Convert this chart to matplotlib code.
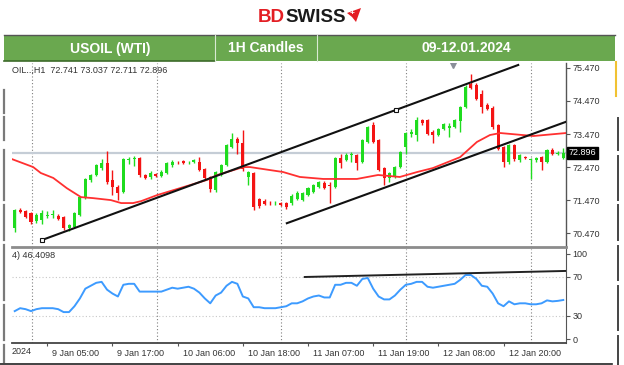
import matplotlib
matplotlib.use("Agg")
import matplotlib.pyplot as plt
import matplotlib.transforms as mtrans
from matplotlib.patches import Rectangle, Polygon
import numpy as np

plt.rcParams['font.family'] = ['Liberation Sans', 'DejaVu Sans']

W, H = 624, 365

# hourly candles, 9-12 Jan 2024
opens = [70.62, 71.17, 71.14, 71.08, 70.83, 70.86, 71.00, 71.02, 70.99, 70.95,
         70.62, 70.65, 71.02, 71.56, 72.08, 72.23, 72.44, 72.59, 72.08, 71.86,
         71.71, 72.68, 72.71, 72.74, 72.23, 72.17, 72.26, 72.20, 72.29, 72.53,
         72.63, 72.65, 72.61, 72.62, 72.62, 72.41, 72.17, 71.77, 72.23, 72.53,
         73.08, 73.32, 73.20, 72.17, 72.29, 71.50, 71.44, 71.39, 71.37, 71.38,
         71.38, 71.38, 71.50, 71.47, 71.62, 71.71, 71.86, 72.00, 71.93, 71.86,
         72.74, 72.68, 72.84, 72.83, 72.62, 73.23, 73.74, 73.29, 72.44, 72.14,
         72.17, 72.47, 73.08, 73.47, 73.44, 73.89, 73.89, 73.53, 73.44, 73.62,
         73.66, 73.68, 73.86, 74.29, 74.98, 74.95, 74.68, 74.35, 74.26, 73.74,
         73.08, 72.62, 73.14, 72.68, 72.77, 72.68, 72.68, 72.77, 72.62, 72.98,
         72.88, 72.741]
highs = [71.20, 71.22, 71.17, 71.11, 71.08, 71.17, 71.14, 71.17, 71.05, 70.98,
         70.74, 71.11, 71.59, 72.14, 72.26, 72.56, 72.71, 72.95, 72.38, 71.92,
         72.74, 72.77, 72.80, 72.77, 72.26, 72.35, 72.29, 72.38, 72.62, 72.68,
         72.66, 72.68, 72.66, 72.71, 72.77, 72.44, 72.20, 72.35, 72.56, 73.17,
         73.50, 73.38, 73.59, 72.35, 72.32, 71.53, 71.50, 71.44, 71.44, 71.41,
         71.41, 71.65, 71.74, 71.71, 71.86, 71.95, 72.05, 72.05, 72.02, 72.77,
         72.86, 72.89, 72.92, 72.86, 73.32, 73.71, 73.83, 73.32, 72.47, 72.32,
         72.50, 72.95, 73.53, 73.62, 73.98, 73.92, 73.92, 73.59, 73.65, 73.80,
         73.80, 73.92, 74.32, 74.95, 75.29, 75.01, 74.80, 74.41, 74.32, 73.77,
         73.11, 73.17, 73.17, 72.86, 72.80, 72.74, 72.77, 72.80, 73.01, 73.04,
         72.95, 73.037]
lows = [70.50, 71.08, 70.92, 70.74, 70.77, 70.74, 70.92, 70.92, 70.86, 70.56,
        70.53, 70.62, 70.98, 71.50, 72.02, 72.20, 72.38, 71.95, 71.62, 71.47,
        71.68, 72.56, 72.50, 72.17, 72.11, 72.11, 72.17, 72.17, 72.26, 72.47,
        72.56, 72.56, 72.56, 72.59, 72.35, 72.08, 71.71, 71.71, 72.20, 72.50,
        73.05, 72.86, 72.35, 71.92, 71.17, 71.23, 71.32, 71.32, 71.32, 71.29,
        71.20, 71.32, 71.47, 71.44, 71.59, 71.68, 71.83, 71.80, 71.38, 71.83,
        72.44, 72.65, 72.62, 72.38, 72.59, 73.20, 73.20, 72.35, 71.92, 72.02,
        72.14, 72.44, 72.86, 73.38, 73.26, 73.74, 73.44, 73.20, 73.41, 73.59,
        73.38, 73.65, 73.53, 74.26, 74.83, 74.50, 74.11, 74.20, 73.62, 72.98,
        72.47, 72.56, 72.65, 72.62, 72.71, 72.10, 72.62, 72.38, 72.59, 72.83,
        72.83, 72.711]
closes = [71.17, 71.11, 70.95, 70.80, 71.02, 71.08, 71.03, 71.04, 70.90, 70.62,
          70.71, 71.08, 71.56, 72.11, 72.23, 72.53, 72.59, 72.02, 71.86, 71.68,
          72.71, 72.71, 72.74, 72.23, 72.14, 72.29, 72.21, 72.32, 72.59, 72.62,
          72.61, 72.59, 72.63, 72.68, 72.38, 72.14, 71.80, 72.32, 72.53, 73.14,
          73.32, 73.20, 72.41, 72.32, 71.26, 71.29, 71.35, 71.37, 71.39, 71.32,
          71.26, 71.59, 71.68, 71.68, 71.83, 71.92, 72.02, 71.83, 71.90, 72.74,
          72.59, 72.83, 72.86, 72.59, 73.29, 73.68, 73.23, 72.38, 72.14, 72.29,
          72.47, 72.92, 73.50, 73.53, 73.89, 73.80, 73.47, 73.44, 73.62, 73.77,
          73.70, 73.89, 74.29, 74.89, 74.86, 74.53, 74.29, 74.23, 73.68, 73.02,
          72.62, 73.14, 72.71, 72.83, 72.74, 72.71, 72.74, 72.62, 72.98, 72.86,
          72.91, 72.896]

# moving average
ma_idx = [-0.5, 3.4, 4.8, 7.1, 9.6, 12.2, 14.4, 17.7, 19.6, 21.8, 23.3, 26.2, 31.0,
          35.4, 37.3, 42.1, 43.3, 49.4, 52.5, 56.8, 63.0, 66.9, 70.9, 74.1, 77.0,
          82.0, 85.1, 87.5, 89.4, 95.5, 101.5]
ma_val = [72.71, 72.47, 72.29, 72.14, 71.83, 71.56, 71.53, 71.47, 71.38, 71.38, 71.44,
          71.62, 71.86, 72.08, 72.23, 72.47, 72.47, 72.32, 72.17, 72.11, 72.11, 72.23,
          72.17, 72.32, 72.44, 72.77, 73.23, 73.44, 73.50, 73.41, 73.50]

rsi = [35, 38, 37, 35, 37, 38, 38, 38, 37, 34,
       34, 40, 48, 58, 61, 64, 65, 57, 53, 50,
       62, 63, 63, 55, 55, 55, 55, 55, 57, 59,
       58, 59, 60, 58, 54, 48, 43, 51, 54, 61,
       65, 63, 50, 48, 39, 39, 38, 38, 38, 39,
       40, 43, 43, 45, 48, 50, 51, 49, 49, 62,
       62, 64, 64, 61, 68, 69, 58, 50, 47, 47,
       51, 57, 62, 63, 65, 65, 60, 59, 60, 61,
       62, 63, 67, 72, 72, 68, 61, 60, 53, 43,
       40, 45, 42, 43, 43, 42, 42, 43, 46, 45,
       45.5, 46.4098]

# trend lines (bar index, value)
upper_x, upper_y = [5.0, 92.7], [70.26, 75.56]
upper_pts_x, upper_pts_y = [5.0, 70.2], [70.26, 74.20]
lower_x, lower_y = [50.1, 101.5], [70.77, 73.84]
rsi_tl_x, rsi_tl_y = [53.4, 101.5], [70.0, 76.2]

xtick_idx = [6, 18, 30, 42, 54, 66, 78, 90]
xtick_lab = ['9 Jan 05:00', '9 Jan 17:00', '10 Jan 06:00', '10 Jan 18:00',
             '11 Jan 07:00', '11 Jan 19:00', '12 Jan 08:00', '12 Jan 20:00']
grid_idx = [3.2, 26.2, 49.0, 72.1, 95.0]
price_ticks = [75.47, 74.47, 73.47, 72.47, 71.47, 70.47]

GREEN = '#1fdc1f'
RED = '#f41414'
TXT = '#333333'


def px_axes(fig, x0, y0, x1, y1, **kw):
    return fig.add_axes([x0 / W, 1 - y1 / H, (x1 - x0) / W, (y1 - y0) / H], **kw)


fig = plt.figure(figsize=(W / 100, H / 100), dpi=100)

# background / decorations in pixel coordinates
bg = px_axes(fig, 0, 0, W, H)
bg.set_xlim(0, W)
bg.set_ylim(H, 0)
bg.axis('off')

bg.add_patch(Rectangle((4, 35), 611, 26, facecolor='#6aa84f', edgecolor='none'))
bg.plot([4, 615], [35, 35], color='#555555', lw=1)
bg.plot([4, 215], [61, 61], color='#3d6b2a', lw=1.2)
for xx in [215, 317]:
    bg.plot([xx, xx], [35, 61], color='#d9ead3', lw=0.8)
bg.text(110, 48.5, 'USOIL (WTI)', color='white', fontsize=10, fontweight='bold',
        ha='center', va='center')
bg.text(266, 48.5, '1H Candles', color='white', fontsize=10, fontweight='bold',
        ha='center', va='center')
bg.text(466, 48.5, '09-12.01.2024', color='white', fontsize=10, fontweight='bold',
        ha='center', va='center')

# logo
t_bd = bg.text(258, 17, 'BD', color='#e31e24', fontsize=13.5, fontweight='bold',
               ha='left', va='center')
bg.annotate('SWISS', xy=(1, 0.5), xycoords=t_bd, color='#1a1a1a', fontsize=13.5,
            fontweight='bold', ha='left', va='center')
bg.add_patch(Polygon([(347, 13), (361, 8), (356, 22), (352, 17)], closed=True,
                     facecolor='#e31e24', edgecolor='none'))
bg.text(352.5, 14, '+', color='white', fontsize=6, fontweight='bold',
        ha='center', va='center')

# window edges
for y0, y1 in [(90, 113), (117, 140), (150, 200), (205, 240), (245, 300), (305, 340), (345, 362)]:
    bg.plot([4, 4], [y0, y1], color='#7a7a7a', lw=1.6)
bg.plot([616, 616], [62, 96], color='#f1c232', lw=1.5)
for y0, y1 in [(118, 150), (156, 200), (205, 240), (246, 280), (286, 330), (336, 365)]:
    bg.plot([618, 618], [y0, y1], color='#444444', lw=1.4)
bg.plot([0, 612], [363.5, 363.5], color='#222222', lw=1.2)

fig.text(12 / W, 1 - 70 / H, 'OIL..,H1  72.741 73.037 72.711 72.896',
         fontsize=6.5, color=TXT, ha='left', va='center')
fig.text(12 / W, 1 - 255 / H, '4) 46.4098', fontsize=6.5, color=TXT,
         ha='left', va='center')
fig.text(12 / W, 1 - 352 / H, '2024', fontsize=6.5, color=TXT,
         ha='left', va='center')

# ---------------- price panel
ax = px_axes(fig, 12, 63, 566, 247)
ax.set_facecolor('none')
idx = np.arange(len(opens))
o = np.array(opens)
c = np.array(closes)
cols = np.where(c >= o, GREEN, RED)

for g in grid_idx:
    ax.axvline(g, color='#7f7f7f', ls=(0, (1, 2)), lw=0.8, zorder=0)
ax.axhline(closes[-1], color='#c5cdd6', lw=1.6, zorder=1)

ax.vlines(idx, lows, highs, colors=cols, lw=1, zorder=2)
body = np.maximum(np.abs(c - o), 0.02)
ax.bar(idx, body, bottom=np.minimum(o, c), width=0.56, color=cols, lw=0, zorder=3)

ax.plot(ma_idx, ma_val, color='#ff3030', lw=1.3, zorder=4)
ax.plot(upper_x, upper_y, color='#111111', lw=1.5, zorder=5)
ax.plot(lower_x, lower_y, color='#111111', lw=1.5, zorder=5)
ax.plot(upper_pts_x, upper_pts_y, ls='none', marker='s', ms=3, mfc='white',
        mec='#111111', mew=0.8, zorder=6)
ax.plot([80.7], [75.55], ls='none', marker='v', ms=4, color='#8a8f99', zorder=6)

ax.set_xlim(-0.5, 101.5)
ax.set_ylim(70.05, 75.62)
ax.set_xticks([])
ax.yaxis.tick_right()
ax.set_yticks(price_ticks)
ax.set_yticklabels(['%.3f' % p for p in price_ticks])
ax.tick_params(axis='y', direction='out', length=3, width=0.8, color='#555555',
               labelsize=6.5, labelcolor=TXT, pad=1.5)
for s in ['top', 'left']:
    ax.spines[s].set_visible(False)
ax.spines['right'].set_color('#555555')
ax.spines['right'].set_linewidth(1)
ax.spines['bottom'].set_color('#8c8c8c')
ax.spines['bottom'].set_linewidth(2)

tr = mtrans.blended_transform_factory(ax.transAxes, ax.transData)
ax.text(1.005, closes[-1], '%.3f' % closes[-1], transform=tr, ha='left', va='center',
        color='white', fontsize=6.5,
        bbox=dict(facecolor='black', edgecolor='black', pad=1.2))

# ---------------- RSI panel
ax2 = px_axes(fig, 12, 249, 566, 343)
ax2.set_facecolor('none')
for g in grid_idx:
    ax2.axvline(g, color='#7f7f7f', ls=(0, (1, 2)), lw=0.8, zorder=0)
for lv in [70, 30]:
    ax2.axhline(lv, color='#c8c8c8', ls=(0, (1, 2)), lw=0.8, zorder=0)
ax2.plot(idx, rsi, color='#3d9bff', lw=1.4, zorder=3)
ax2.plot(rsi_tl_x, rsi_tl_y, color='#222222', lw=1.4, zorder=4)

ax2.set_xlim(-0.5, 101.5)
ax2.set_ylim(2.3, 98.7)
ax2.yaxis.tick_right()
ax2.set_yticks([93.6, 70, 30, 6.4])
ax2.set_yticklabels(['100', '70', '30', '0'])
ax2.tick_params(axis='y', direction='out', length=3, width=0.8, color='#555555',
                labelsize=6.5, labelcolor=TXT, pad=1.5)
ax2.set_xticks(xtick_idx)
ax2.set_xticklabels(xtick_lab, ha='left')
ax2.tick_params(axis='x', direction='out', length=2.5, width=0.8, color='#555555',
                labelsize=6.5, labelcolor=TXT, pad=2)
shift = mtrans.ScaledTranslation(5 / 100, 0, fig.dpi_scale_trans)
for lab in ax2.get_xticklabels():
    lab.set_transform(lab.get_transform() + shift)
for s in ['top', 'left']:
    ax2.spines[s].set_visible(False)
ax2.spines['right'].set_color('#555555')
ax2.spines['bottom'].set_color('#444444')
ax2.spines['bottom'].set_linewidth(1.3)

fig.savefig('out.png', dpi=100, facecolor='white')
